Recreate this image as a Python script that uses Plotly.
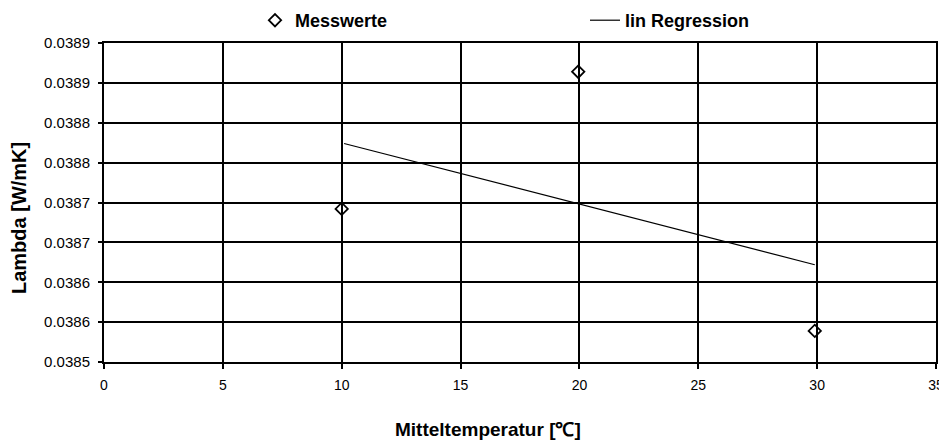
import plotly.graph_objects as go

# Data
mess_x = [10, 19.95, 29.9]
mess_y = [0.038692, 0.038864, 0.038539]

reg_x = [10.1, 29.9]
reg_y = [0.038774, 0.038622]

x_ticks = [0, 5, 10, 15, 20, 25, 30, 35]
y_tickvals = [0.0385, 0.03855, 0.0386, 0.03865, 0.0387, 0.03875, 0.0388, 0.03885, 0.0389]
y_ticktext = ["0.0385", "0.0386", "0.0386", "0.0387", "0.0387", "0.0388", "0.0388", "0.0389", "0.0389"]

FONT = "Liberation Sans, Arial, sans-serif"

# page body has an 8px default margin, so the figure is offset by (8, 8)
fig = go.Figure()
fig.add_trace(go.Scatter(
    x=mess_x, y=mess_y, mode="markers", name="Messwerte",
    marker=dict(symbol="diamond-open", size=9.5, color="black", line=dict(width=1.8, color="black")),
))
fig.add_trace(go.Scatter(
    x=reg_x, y=reg_y, mode="lines", name="lin Regression",
    line=dict(color="black", width=1.2),
))

fig.update_layout(
    width=939, height=434,
    margin=dict(l=96, r=11, t=35, b=80, autoexpand=False),
    paper_bgcolor="white", plot_bgcolor="white",
    font=dict(family=FONT, size=14, color="black"),
    showlegend=True,
    legend=dict(
        orientation="h", x=(255 - 104) / 832, xanchor="left", y=1 + (43 - 20.5) / 319, yanchor="middle",
        font=dict(family=FONT, size=18, color="black", weight="bold"),
        entrywidth=285, entrywidthmode="pixels",
        bgcolor="rgba(0,0,0,0)",
    ),
    xaxis=dict(
        range=[0, 35], tickvals=x_ticks, ticktext=[str(v) for v in x_ticks],
        showgrid=True, gridcolor="black", gridwidth=1.6,
        showline=True, linecolor="black", linewidth=2, mirror=True,
        ticks="outside", ticklen=5, tickcolor="black", tickwidth=1.6,
        ticklabelstandoff=4, ticklabeloverflow="allow",
        zeroline=False, tickfont=dict(size=14),
    ),
    yaxis=dict(
        range=[0.0385, 0.0389], tickvals=y_tickvals, ticktext=y_ticktext,
        showgrid=True, gridcolor="black", gridwidth=1.6,
        showline=True, linecolor="black", linewidth=2, mirror=True,
        ticks="outside", ticklen=4, tickcolor="black", tickwidth=1.6,
        ticklabelstandoff=5,
        zeroline=False, tickfont=dict(size=15),
    ),
    annotations=[
        dict(text="Mitteltemperatur [℃]", xref="paper", yref="paper",
             x=(488 - 104) / 832, y=-(429 - 362) / 319, xanchor="center", yanchor="middle",
             showarrow=False, font=dict(family=FONT, size=19, weight="bold")),
        dict(text="Lambda [W/mK]", xref="paper", yref="paper",
             x=-(104 - 19) / 832, y=(362 - 218) / 319, xanchor="center", yanchor="middle",
             textangle=-90, showarrow=False, font=dict(family=FONT, size=20, weight="bold")),
    ],
)

fig.write_html(
    "out.html",
    post_script="document.documentElement.style.overflow='hidden';document.body.style.overflow='hidden';",
)
